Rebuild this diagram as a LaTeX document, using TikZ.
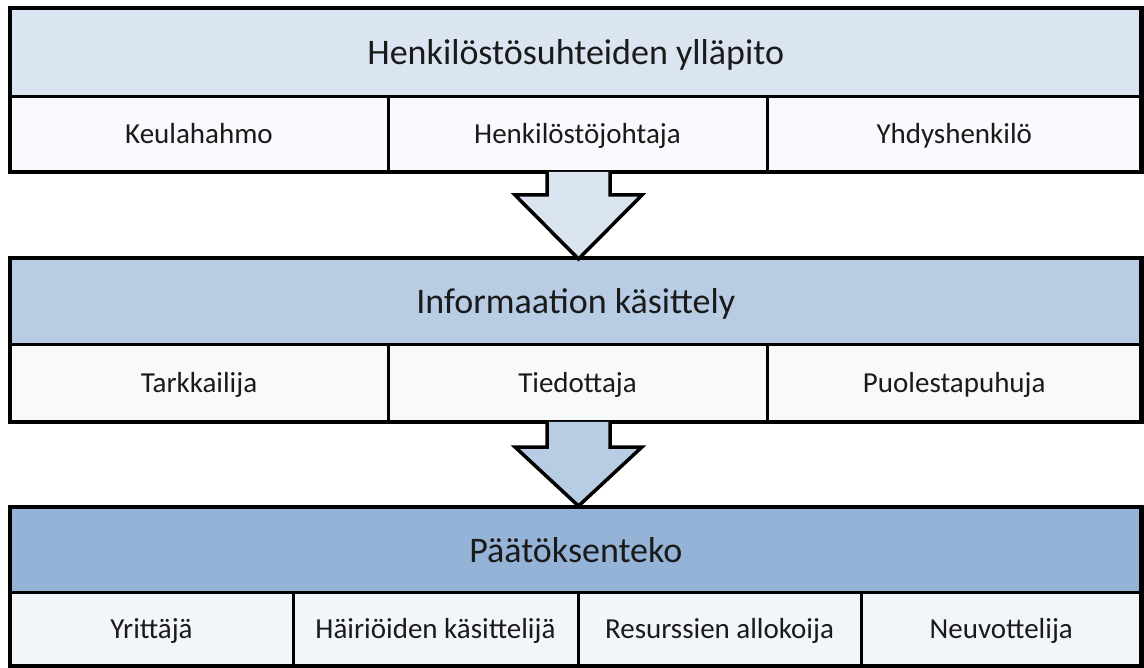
\documentclass[tikz,border=0pt]{standalone}
\usepackage{fontspec}
\setmainfont{Carlito}
\usetikzlibrary{calc}
\definecolor{hdA}{HTML}{DBE5F1}
\definecolor{hdB}{HTML}{B8CCE4}
\definecolor{hdC}{HTML}{95B3D7}
\definecolor{cellA}{HTML}{F9FAFD}
\definecolor{cellB}{HTML}{F7F9FB}
\definecolor{cellC}{HTML}{F2F5F9}
\definecolor{txt}{HTML}{1A1A1A}
\tikzset{
  box/.style={draw=black, line width=3pt, rectangle, anchor=north west, inner sep=0pt, outer sep=0pt, text=txt},
  header/.style={box, font=\fontsize{36}{40}\selectfont, text height=25pt, text depth=0pt},
  cell/.style={box, font=\fontsize{29}{34}\selectfont, text height=19pt, text depth=0pt},
  frame/.style={draw=black, line width=4.5pt},
  blockarrow/.style={draw=black, line width=3.5pt, line join=miter},
}
\begin{document}
\begin{tikzpicture}[x=1pt,y=-1pt]
\useasboundingbox (0,0) rectangle (1144,668);
% ---- block 1
\node[header, fill=hdA, minimum width=1131.5pt, minimum height=89pt] (h1) at (10,8) {Henkilöstösuhteiden ylläpito};
\node[cell, fill=cellA, minimum width=378pt, minimum height=75pt] (c11) at (10,97) {Keulahahmo};
\node[cell, fill=cellA, minimum width=379pt, minimum height=75pt] (c12) at (388,97) {Henkilöstöjohtaja};
\node[cell, fill=cellA, minimum width=374.5pt, minimum height=75pt] (c13) at (767,97) {Yhdyshenkilö};
\draw[frame] (h1.north west) rectangle (c13.south east);
% ---- block 2
\node[header, fill=hdB, minimum width=1131.5pt, minimum height=87pt] (h2) at (10,258) {Informaation käsittely};
\node[cell, fill=cellB, minimum width=378pt, minimum height=77pt] (c21) at (10,345) {Tarkkailija};
\node[cell, fill=cellB, minimum width=379pt, minimum height=77pt] (c22) at (388,345) {Tiedottaja};
\node[cell, fill=cellB, minimum width=374.5pt, minimum height=77pt] (c23) at (767,345) {Puolestapuhuja};
\draw[frame] (h2.north west) rectangle (c23.south east);
% ---- block 3
\node[header, fill=hdC, minimum width=1131.5pt, minimum height=85pt] (h3) at (10,507) {Päätöksenteko};
\node[cell, fill=cellC, minimum width=283pt, minimum height=74pt] (c31) at (10,592) {Yrittäjä};
\node[cell, fill=cellC, minimum width=285pt, minimum height=74pt] (c32) at (293,592) {Häiriöiden käsittelijä};
\node[cell, fill=cellC, minimum width=283pt, minimum height=74pt] (c33) at (578,592) {Resurssien allokoija};
\node[cell, fill=cellC, minimum width=280.5pt, minimum height=74pt] (c34) at (861,592) {Neuvottelija};
\draw[frame] (h3.north west) rectangle (c34.south east);
% ---- arrows
\coordinate (a1s) at (578.5,172);
\coordinate (a1t) at (578.5,259);
\coordinate (a2s) at (578.5,422);
\coordinate (a2t) at (578.5,506);
\draw[blockarrow, fill=hdA]
  ($(a1s)+(-31.5,0)$) -- ($(a1s)+(-31.5,23)$) -- ($(a1s)+(-63.5,23)$) -- (a1t)
  -- ($(a1s)+(63.5,23)$) -- ($(a1s)+(31.5,23)$) -- ($(a1s)+(31.5,0)$);
\draw[blockarrow, fill=hdB]
  ($(a2s)+(-31.5,0)$) -- ($(a2s)+(-31.5,25)$) -- ($(a2s)+(-63.5,25)$) -- (a2t)
  -- ($(a2s)+(63.5,25)$) -- ($(a2s)+(31.5,25)$) -- ($(a2s)+(31.5,0)$);
\end{tikzpicture}
\end{document}
